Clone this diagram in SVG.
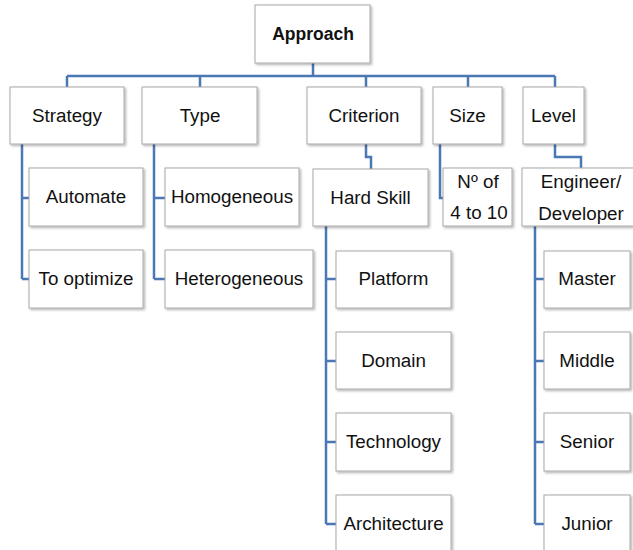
<svg xmlns="http://www.w3.org/2000/svg" width="633" height="550" viewBox="0 0 633 550">
<style>
.box{fill:#ffffff;stroke:#a8a8a8;stroke-width:1;filter:url(#sh)}
.t{font-family:"Liberation Sans",Arial,sans-serif;font-size:18.8px;fill:#111;text-anchor:middle}
.b{font-weight:bold;font-size:17.5px}
.c{fill:none;stroke:#4a78b4;stroke-width:2.5;stroke-linejoin:miter}
</style>
<defs>
<filter id="sh" x="-10%" y="-10%" width="130%" height="130%">
<feDropShadow dx="1.5" dy="1.5" stdDeviation="0.8" flood-color="#000" flood-opacity="0.3"/>
</filter>
</defs>
<rect width="633" height="550" fill="#ffffff"/>
<g id="connectors">
<path class="c" d="M313,63V76M67,76H555M67,76V87M200,76V87M366,76V87M468,76V87M555,76V87"/>
<path class="c" d="M22,144V279M22,198H29M22,279H29"/>
<path class="c" d="M154,144V279M154,198H165M154,279H165"/>
<path class="c" d="M366,144V157H371V169"/>
<path class="c" d="M440,144V198H443"/>
<path class="c" d="M555,144V157H581V168"/>
<path class="c" d="M326,226V524M326,279H336M326,361H336M326,442H336M326,524H336"/>
<path class="c" d="M535,226V524M535,279H544M535,361H544M535,442H544M535,524H544"/>
</g>
<g id="approach"><rect class="box" x="255" y="5" width="115" height="58"/><text class="t b" x="313" y="40">Approach</text></g>
<g id="strategy"><rect class="box" x="10" y="87" width="114" height="57"/><text class="t" x="67" y="122">Strategy</text></g>
<g id="type"><rect class="box" x="142" y="87" width="115" height="57"/><text class="t" x="200" y="122">Type</text></g>
<g id="criterion"><rect class="box" x="307" y="87" width="114" height="57"/><text class="t" x="364" y="122">Criterion</text></g>
<g id="size"><rect class="box" x="433" y="87" width="69" height="57"/><text class="t" x="467.5" y="122">Size</text></g>
<g id="level"><rect class="box" x="523" y="87" width="61" height="57"/><text class="t" x="553.5" y="122">Level</text></g>
<g id="automate"><rect class="box" x="29" y="168" width="114" height="58"/><text class="t" x="86" y="203">Automate</text></g>
<g id="optimize"><rect class="box" x="29" y="250" width="114" height="58"/><text class="t" x="86" y="285">To optimize</text></g>
<g id="homogeneous"><rect class="box" x="165" y="168" width="134" height="58"/><text class="t" x="232" y="203">Homogeneous</text></g>
<g id="heterogeneous"><rect class="box" x="165" y="250" width="148" height="58"/><text class="t" x="239" y="285">Heterogeneous</text></g>
<g id="hardskill"><rect class="box" x="313" y="169" width="115" height="57"/><text class="t" x="370.5" y="204">Hard Skill</text></g>
<g id="members"><rect class="box" x="443" y="168" width="69" height="58"/><text class="t" x="478" y="188">Nº of</text><text class="t" x="479" y="219">4 to 10</text></g>
<g id="engineer"><rect class="box" x="522" y="168" width="118" height="58"/><text class="t" x="581" y="188">Engineer/</text><text class="t" x="581" y="220">Developer</text></g>
<g id="platform"><rect class="box" x="336" y="251" width="115" height="57"/><text class="t" x="393.5" y="285">Platform</text></g>
<g id="domain"><rect class="box" x="336" y="332" width="115" height="57"/><text class="t" x="393.5" y="367">Domain</text></g>
<g id="technology"><rect class="box" x="336" y="413" width="115" height="58"/><text class="t" x="393.5" y="448">Technology</text></g>
<g id="architecture"><rect class="box" x="336" y="495" width="115" height="60"/><text class="t" x="393.5" y="530">Architecture</text></g>
<g id="master"><rect class="box" x="544" y="251" width="86" height="57"/><text class="t" x="587" y="285">Master</text></g>
<g id="middle"><rect class="box" x="544" y="332" width="86" height="57"/><text class="t" x="587" y="367">Middle</text></g>
<g id="senior"><rect class="box" x="544" y="413" width="86" height="58"/><text class="t" x="587" y="448">Senior</text></g>
<g id="junior"><rect class="box" x="544" y="495" width="86" height="60"/><text class="t" x="587" y="530">Junior</text></g>
</svg>
